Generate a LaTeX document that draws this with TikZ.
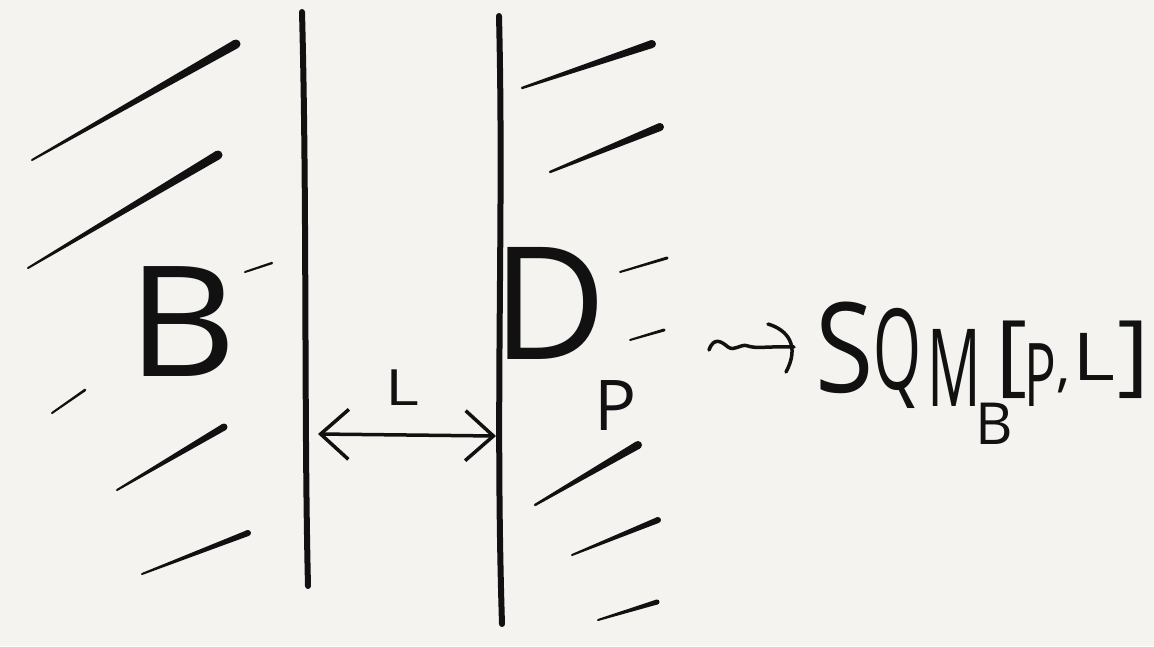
\documentclass[tikz,border=0pt]{standalone}
\usepackage{fontspec}
\usepackage{graphicx}
\newfontfamily\hand{Open Sans}
\usetikzlibrary{calc,arrows.meta}
\definecolor{paper}{HTML}{F4F3F0}
\definecolor{ink}{HTML}{111111}
\newcommand\mystroke[4]{%
  \fill[ink] ($(#1)!#3!90:(#2)$) -- ($(#2)!#4!-90:(#1)$) -- ($(#2)!#4!90:(#1)$) -- ($(#1)!#3!-90:(#2)$) -- cycle;
  \fill[ink] (#1) circle[radius=#3];
  \fill[ink] (#2) circle[radius=#4];}
\newcommand\glyph[3]{{\hand\fontsize{#1}{#1}\selectfont\scalebox{#2}[1]{#3}}}
\begin{document}
\begin{tikzpicture}[x=1pt,y=-1pt,
  txt/.style={inner sep=0pt, text=ink},
  wall/.style={draw=ink, line width=6pt, line cap=round},
  pen/.style={draw=ink, line width=3.5pt, line cap=round, line join=round}]
\fill[paper] (0,0) rectangle (1154,646);
\useasboundingbox (0,0) rectangle (1154,646);
% left hatching
\mystroke{32,160}{236,44}{1pt}{4.5pt}
\mystroke{28,268}{218,155}{1pt}{4.5pt}
\mystroke{245,272}{272,263}{1pt}{1.2pt}
\mystroke{52,413}{85,390}{1pt}{1.3pt}
\mystroke{117,490}{224,427}{1pt}{3.5pt}
\mystroke{142,574}{248,533}{1pt}{3pt}
% right hatching
\mystroke{522,88}{652,44}{1.2pt}{4pt}
\mystroke{550,172}{660,127}{1.2pt}{4pt}
\mystroke{620,272}{667,258}{1pt}{1.5pt}
\mystroke{630,340}{664,330}{1pt}{1.5pt}
\mystroke{535,505}{638,445}{1.2pt}{4pt}
\mystroke{572,555}{658,520}{1pt}{3pt}
\mystroke{598,620}{657,602}{1pt}{2.5pt}
% walls
\draw[wall] (302,12) .. controls (307,200) and (304,420) .. (308,586);
\draw[wall] (499,16) .. controls (504,220) and (495,400) .. (502,624);
% distance arrow
\coordinate (la) at (318,434);
\coordinate (lb) at (496,436);
\draw[pen, {Straight Barb[length=28pt,width=50pt]}-{Straight Barb[length=28pt,width=50pt]}] (la) -- (lb);
\node[txt] (Ltext) at (402,388) {\glyph{50}{1.3}{L}};
% labels
\node[txt] (Btext) at (182,322) {\glyph{154}{1.1}{B}};
\node[txt] (Dtext) at (550,303) {\glyph{157}{1}{D}};
\node[txt] (Ptext) at (616,406) {\glyph{70}{1}{P}};
% squiggly arrow
\coordinate (sq1) at (709,350);
\coordinate (sq2) at (794,347);
\draw[pen] (sq1) .. controls (714,336) and (722,342) .. (728,347) .. controls (735,352) and (740,343) .. (748,346) .. controls (756,349) and (770,346) .. (sq2);
\draw[pen] (768,324) .. controls (788,330) and (800,346) .. (786,372);
% SQM_B[P,L]
\node[txt] (S) at (845,348) {\glyph{125}{0.85}{S}};
\node[txt] (Q) at (897,358) {\glyph{112}{0.55}{Q}};
\node[txt] (M) at (954,368) {\glyph{108}{0.55}{M}};
\node[txt] (Bsub) at (994,424) {\glyph{58}{1}{B}};
\node[txt] (lbr) at (1012,360) {\glyph{89}{1.1}{[}};
\node[txt] (P2) at (1040,375) {\glyph{88}{0.6}{P}};
\node[txt] (comma) at (1064,386) {\glyph{58}{1}{,}};
\node[txt] (L2) at (1094,357) {\glyph{66}{1.25}{L}};
\node[txt] (rbr) at (1134,360) {\glyph{89}{1.1}{]}};
\end{tikzpicture}
\end{document}
